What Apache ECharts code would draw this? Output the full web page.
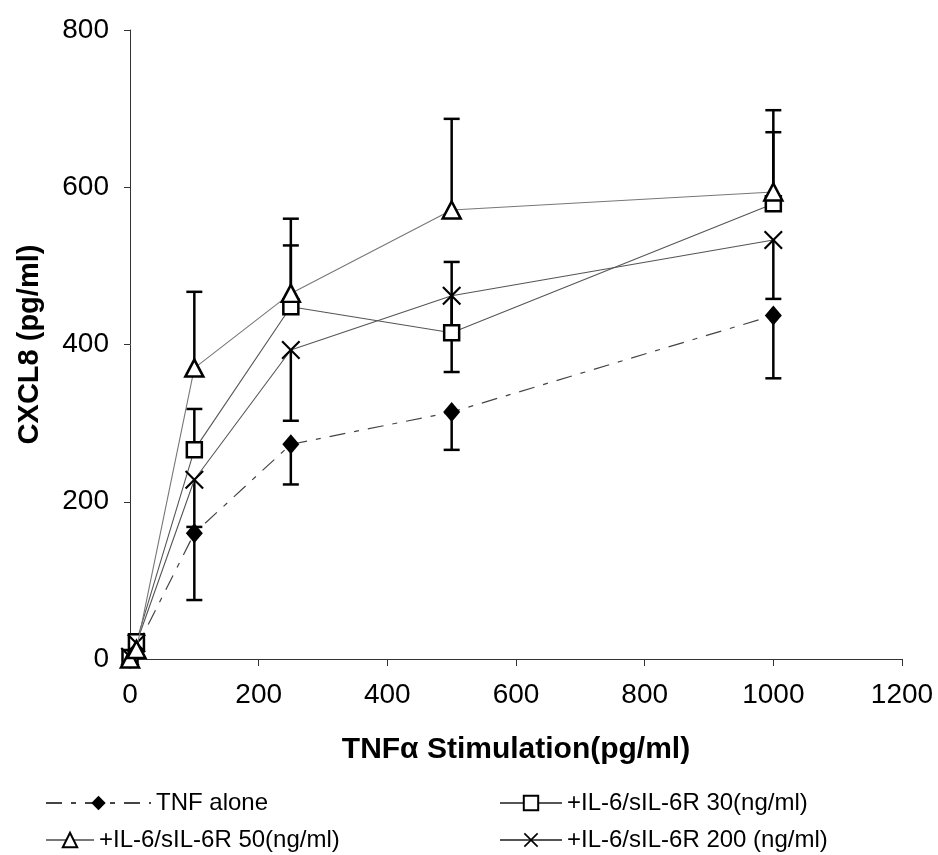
<!DOCTYPE html>
<html>
<head>
<meta charset="utf-8">
<script src="https://cdn.jsdelivr.net/npm/echarts@6/dist/echarts.min.js"></script>
<style>
    html, body { margin: 0; padding: 0; background: #fff; }
    #chart { width: 938px; height: 855px; }
</style>
</head>
<body>
<div id="chart"></div>
<script>
// TNFα dose (pg/ml)
const doses = [0, 10, 100, 250, 500, 1000];
const seriesNames = ['TNF alone', '+IL-6/sIL-6R 30(ng/ml)', '+IL-6/sIL-6R 50(ng/ml)', '+IL-6/sIL-6R 200 (ng/ml)'];

// CXCL8 (pg/ml)
const tnfAlone = [0, 14, 160, 273, 314, 437];
const il6r30 = [2, 22, 266, 448, 415, 579];
const il6r50 = [0, 12, 370, 465, 571, 594];
const il6r200 = [3, 20, 228, 393, 462, 533];

// one-sided error bars as drawn in the figure (diamond/cross down, square/triangle up)
const tnfAloneErr = [0, 4, 85, 51, 48, 80];
const il6r30Err = [0, 4, 52, 78, 90, 91];
const il6r50Err = [0, 4, 97, 95, 116, 104];
const il6r200Err = [0, 4, 60, 90, 97, 75];

const xTicks = [0, 200, 400, 600, 800, 1000, 1200];
const yTicks = [0, 200, 400, 600, 800];

const font = 'Liberation Sans, Arial, sans-serif';
const crossPath = 'path://M0,1.6L1.6,0L10,8.4L18.4,0L20,1.6L11.6,10L20,18.4L18.4,20L10,11.6L1.6,20L0,18.4L8.4,10Z';

function pairs(ys) {
    return doses.map((x, i) => [x, ys[i]]);
}

// sign: 1 = upward bar, -1 = downward bar
function errData(ys, errs, sign) {
    return doses.map((x, i) => [x, ys[i], ys[i] + sign * errs[i]]);
}

function errSeries(name, ys, errs, sign) {
    return {
        name: name,
        type: 'custom',
        z: 1,
        silent: true,
        data: errData(ys, errs, sign),
        renderItem: function (params, api) {
            const a = api.coord([api.value(0), api.value(1)]);
            const b = api.coord([api.value(0), api.value(2)]);
            if (Math.abs(a[1] - b[1]) < 1) return null;
            const w = 8;
            return {
                type: 'group',
                children: [
                    { type: 'line', shape: { x1: a[0], y1: a[1], x2: b[0], y2: b[1] }, style: { stroke: '#000', lineWidth: 2.5 } },
                    { type: 'line', shape: { x1: b[0] - w, y1: b[1], x2: b[0] + w, y2: b[1] }, style: { stroke: '#000', lineWidth: 2.5 } }
                ]
            };
        }
    };
}

const chart = echarts.init(document.getElementById('chart'));

chart.setOption({
    backgroundColor: '#fff',
    animation: false,
    grid: { left: 130, right: 36, top: 30, bottom: 196 },
    xAxis: {
        type: 'value',
        min: 0, max: 1200, interval: 200,
        name: 'TNFα Stimulation(pg/ml)',
        nameLocation: 'middle',
        nameGap: 76,
        nameTextStyle: { fontFamily: font, fontSize: 30, fontWeight: 'bold', color: '#000' },
        axisLine: { lineStyle: { color: '#333', width: 1 } },
        axisTick: { show: true, length: 7, lineStyle: { color: '#333' } },
        axisLabel: {
            fontFamily: font, fontSize: 28, color: '#000', margin: 22,
            formatter: v => xTicks.includes(v) ? String(v) : ''
        },
        splitLine: { show: false }
    },
    yAxis: {
        type: 'value',
        min: 0, max: 800, interval: 200,
        name: 'CXCL8 (pg/ml)',
        nameLocation: 'middle',
        nameGap: 86,
        nameTextStyle: { fontFamily: font, fontSize: 29, fontWeight: 'bold', color: '#000' },
        axisLine: { show: true, lineStyle: { color: '#333', width: 1 } },
        axisTick: { show: true, length: 6, lineStyle: { color: '#333' } },
        axisLabel: {
            fontFamily: font, fontSize: 28, color: '#000', margin: 21,
            formatter: v => yTicks.includes(v) ? String(v) : ''
        },
        splitLine: { show: false }
    },
    legend: [
        { data: [seriesNames[0]], left: 40, top: 786, itemWidth: 105, itemHeight: 18 },
        { data: [seriesNames[1]], left: 494, top: 786, itemWidth: 62, itemHeight: 18 },
        { data: [seriesNames[2]], left: 40, top: 823, itemWidth: 48, itemHeight: 18 },
        { data: [seriesNames[3]], left: 494, top: 823, itemWidth: 62, itemHeight: 18 }
    ].map(l => Object.assign({
        orient: 'horizontal',
        textStyle: { fontFamily: font, fontSize: 24, color: '#000' },
        selectedMode: false
    }, l)),
    series: [
        errSeries('err0', tnfAlone, tnfAloneErr, -1),
        errSeries('err1', il6r30, il6r30Err, 1),
        errSeries('err2', il6r50, il6r50Err, 1),
        errSeries('err3', il6r200, il6r200Err, -1),
        {
            name: seriesNames[0], type: 'line', z: 3,
            data: pairs(tnfAlone),
            symbol: 'diamond', symbolSize: [17, 20],
            itemStyle: { color: '#000' },
            lineStyle: { color: '#444', width: 1.2, type: [16, 9, 5, 9] }
        },
        {
            name: seriesNames[1], type: 'line', z: 4,
            data: pairs(il6r30),
            symbol: 'rect', symbolSize: 15,
            itemStyle: { color: '#fff', borderColor: '#000', borderWidth: 2.5 },
            lineStyle: { color: '#555', width: 1.1 }
        },
        {
            name: seriesNames[2], type: 'line', z: 5,
            data: pairs(il6r50),
            symbol: 'triangle', symbolSize: [18, 17],
            itemStyle: { color: '#fff', borderColor: '#000', borderWidth: 2.5 },
            lineStyle: { color: '#777', width: 1.1 }
        },
        {
            name: seriesNames[3], type: 'line', z: 4,
            data: pairs(il6r200),
            symbol: crossPath, symbolSize: 19,
            itemStyle: { color: '#000' },
            lineStyle: { color: '#555', width: 1.1 }
        }
    ]
});
</script>
</body>
</html>
